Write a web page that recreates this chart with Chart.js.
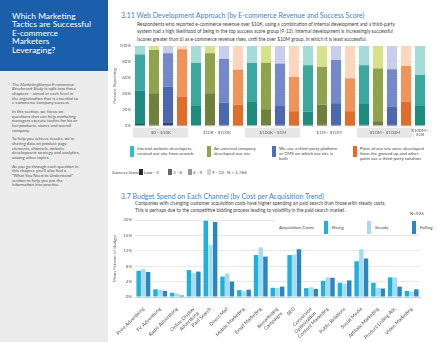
<!DOCTYPE html>
<html>
<head>
<meta charset="utf-8">
<script src="https://cdn.jsdelivr.net/npm/chart.js@4.4.1/dist/chart.umd.min.js"></script>
<style>
  html, body { margin: 0; padding: 0; }
  body {
    width: 438px; height: 342px; overflow: hidden; position: relative;
    background: #fff; font-family: Lato, "Open Sans", sans-serif; color: #444;
  }
  .abs { position: absolute; white-space: nowrap; }

  /* ── Sidebar ── */
  #sidebar { position: absolute; left: 0; top: 0; width: 108px; height: 342px; background: #ececec; }
  #sidebar .head { position: absolute; left: 0; top: 0; width: 108px; height: 71px; background: #1b5fab; }
  #sidebar h1 {
    position: absolute; left: 12px; top: 11.5px; margin: 0;
    font-size: 8.4px; line-height: 8.5px; font-weight: 400; color: #fff;
  }
  #sidebar .copy { position: absolute; left: 12px; top: 82.6px; font-size: 4.3px; line-height: 4.7px; color: #555; white-space: nowrap; }
  #sidebar .copy p { margin: 0 0 3.8px 0; }

  /* ── Section headings ── */
  h2 { position: absolute; margin: 0; font-size: 7px; line-height: 8px; font-weight: 400; color: #3f7fc6; white-space: nowrap; }
  .desc { position: absolute; font-size: 4.8px; color: #444; white-space: nowrap; }

  /* ── Legends ── */
  .swatch { position: absolute; }
  .lgd { position: absolute; font-size: 4.5px; line-height: 5px; color: #444; white-space: nowrap; }

  .chart-box { position: absolute; }
</style>
</head>
<body>

<div id="sidebar">
  <div class="head">
    <h1>Which Marketing<br>Tactics are Successful<br>E-commerce<br>Marketers<br>Leveraging?</h1>
  </div>
  <div class="copy">
    <p>The <i>MarketingSherpa E-commerce<br>Benchmark Study</i> is split into three<br>chapters – aimed at each level in<br>the organization that is essential to<br>e-commerce company success.</p>
    <p>In this section, we focus on<br>questions that can help marketing<br>managers execute tactics for his or<br>her products, stores and overall<br>company.</p>
    <p>To help you achieve results, we're<br>sharing data on product page<br>elements, channels, website<br>development strategy and analytics,<br>among other topics.</p>
    <p>As you go through each question in<br>this chapter, you'll also find a<br>"What You Need to Understand"<br>section to help you put the<br>information into practice.</p>
  </div>
</div>

<h2 style="left:121px; top:11px;">3.11 Web Development Approach (by E-commerce Revenue and Success Score)</h2>
<div class="desc" style="left:137px; top:20.5px; line-height:7.5px;">
  Respondents who reported e-commerce revenue over $10K, using a combination of internal development and a third-party<br>
  system had a high likelihood of being in the top success score group (9-12). Internal development is increasingly successful<br>
  (scores greater than 6) as e-commerce revenue rises, until the over $10M group, in which it is least successful.
</div>

<div class="chart-box" style="left:110px; top:40px; width:328px; height:100px;">
  <canvas id="webDev"></canvas>
</div>

<div id="approachLegend"></div>
<div id="scoreLegend"></div>

<h2 style="left:121px; top:192px;">3.7 Budget Spend on Each Channel (by Cost per Acquisition Trend)</h2>
<div class="desc" style="left:135px; top:200px; line-height:6.7px;">
  Companies with changing customer acquisition costs have higher spending on paid search than those with steady costs.<br>
  This is perhaps due to the competitive bidding process leading to volatility in the paid search market.
</div>

<div class="chart-box" style="left:110px; top:212px; width:328px; height:130px;">
  <canvas id="budget"></canvas>
</div>

<div id="costLegend"></div>

<script>
/* ── 3.11 data: one value per bar, group by group, four approaches each ── */
const revenueGroups = ['$0 - $10K', '$10K - $100K', '$100K - $1M', '$1M - $10M', '$10M - $100M', '$100M -\n$1B'];
const approachLabels = [
  'Internal website developers,\ncreated our site from scratch',
  'An external company\ndeveloped our site',
  'We use a third-party platform\nor CMS on which our site is\nbuilt',
  'Parts of our site were developed\nfrom the ground up and other\nparts use a third-party solution',
];
const scoreBands = ['Low - 3', '3 - 6', '6 - 9', '9 - 12'];
const scoreLow   = [2.5, 2, 4, 2,   1, 1, 2, 0.5,   1, 1, 2, 0.5,   2, 2, 2, 0.5,     1.5, 1, 1.5, 0.5,   1];
const score3to6  = [42, 39, 45, 35,  24, 40, 27, 26,  29, 20, 23, 18,  16, 24.5, 26.5, 18, 27, 5, 23, 30,  24];
const score6to9  = [45, 54, 42, 59,  54, 50, 55, 44,  49, 58, 53, 43,  58, 47.5, 54, 41,  47.5, 66, 46.5, 44.5, 39];
const score9to12 = [10.5, 5, 9, 4,   21, 9, 16, 29.5, 21, 21, 22, 38.5, 24, 26, 17.5, 40.5, 24, 28, 29, 25,  36];
const percentTicks = [0, 20, 40, 60, 80, 100];
const respondents311 = 'N = 1,766';

/* ── 3.7 data ── */
const channels = [
  'Print Advertising', 'TV Advertising', 'Radio Advertising', ['Online Display', 'Advertising'],
  'Paid Search', 'Direct Mail', 'Mobile Marketing', 'Email Marketing', ['Remarketing', 'Campaigns'],
  'SEO', ['Conversion', 'Optimization'], 'Content Marketing', 'Public Relations', 'Social Media',
  'Affiliate Marketing', 'Product Listing Ads', 'Video Marketing',
];
const costTrends = ['Rising', 'Steady', 'Falling'];
const rising  = [6.8, 2.0, 1.1, 7.0, 19.8, 5.3, 1.8, 10.9, 2.4, 10.9, 2.3, 4.2, 3.7, 9.3, 3.7, 5.1, 1.6];
const steady  = [7.3, 1.9, 0.9, 6.2, 13.6, 6.1, 1.5, 12.9, 2.4, 11.0, 2.5, 5.1, 3.5, 12.4, 2.4, 5.1, 1.4];
const falling = [6.5, 1.6, 0.4, 6.6, 19.5, 4.0, 1.9, 10.5, 2.7, 12.4, 2.1, 5.0, 4.3, 10.0, 2.2, 2.7, 2.0];
const respondents37 = 'N=925';

/* ── Palette ── */
const APPROACH_SHADES = [            // darkest (Low - 3) → lightest (9 - 12)
  ['#10615a', '#1d8b7d', '#3ba89f', '#a5dcda'],   // teal
  ['#4a5923', '#6e803a', '#8fa34c', '#d6e18a'],   // olive
  ['#273f86', '#4b67ae', '#7389c9', '#c9cfea'],   // blue
  ['#a4420f', '#df6e2c', '#ef9459', '#fcd6bc'],   // orange
];
const APPROACH_ICONS = ['#30bec6', '#8ca443', '#4a6fc0', '#f26624'];
const SCORE_SWATCHES = ['#2f2a2a', '#6d5f5c', '#a2928f', '#d9cfce'];
const TREND_COLORS = ['#1fb0dc', '#a7dcee', '#2b87c3'];
const FONT = 'Lato, "Open Sans", sans-serif';

Chart.defaults.font.family = FONT;
Chart.defaults.animation = false;

/* ── Helpers ── */
function el(html, parent) {
  const d = document.createElement('div');
  d.innerHTML = html;
  const node = d.firstElementChild;
  (parent || document.body).appendChild(node);
  return node;
}

/* ── Revenue group boxes under the 3.11 bars ── */
const groupBoxes = {
  id: 'groupBoxes',
  afterDraw(chart) {
    const { ctx, chartArea, scales: { x } } = chart;
    const step = x.getPixelForValue(1) - x.getPixelForValue(0);
    const top = chartArea.bottom + 1.7;
    const h = 10;
    ctx.save();
    ctx.font = '4.5px ' + FONT;
    ctx.fillStyle = '#666';
    ctx.textAlign = 'center';
    ctx.textBaseline = 'middle';
    revenueGroups.forEach((g, i) => {
      const start = x.getPixelForValue(i * 4) - step / 2;
      const end = Math.min(start + step * 4, chart.width);
      if (i % 2 === 0) {
        ctx.fillStyle = '#e6e6e6';
        ctx.fillRect(start, top, end - start - 1, h);
      } else if (i === revenueGroups.length - 1) {
        ctx.fillStyle = '#d0d0d0';
        ctx.fillRect(start, top, 0.6, h);
      }
      ctx.fillStyle = '#666';
      const cx = (start + Math.min(end, chartArea.right)) / 2;
      const lines = g.split('\n');
      lines.forEach((t, k) => {
        ctx.fillText(t, cx, top + h / 2 + (k - (lines.length - 1) / 2) * 4.6);
      });
    });
    ctx.restore();
  },
};

/* ── 3.11 stacked bars ── */
const barLabels = revenueGroups
  .flatMap(g => approachLabels.map(a => g.replace('\n', ' ') + ' | ' + a.replace(/\n/g, ' ')))
  .slice(0, scoreLow.length);

new Chart(document.getElementById('webDev'), {
  type: 'bar',
  data: {
    labels: barLabels,
    datasets: [scoreLow, score3to6, score6to9, score9to12].map((data, i) => ({
      label: scoreBands[i],
      data,
      backgroundColor: data.map((_, k) => APPROACH_SHADES[k % 4][i]),
      borderWidth: 0,
      barPercentage: 0.72,
      categoryPercentage: 1,
    })),
  },
  options: {
    responsive: true,
    maintainAspectRatio: false,
    layout: { padding: { top: 6, right: 11, bottom: 14, left: 0 } },
    plugins: { legend: { display: false }, tooltip: { enabled: false } },
    scales: {
      x: { stacked: true, display: false },
      y: {
        stacked: true, min: 0, max: 100,
        afterBuildTicks: s => { s.ticks = percentTicks.map(v => ({ value: v })); },
        afterFit: s => { s.width = 23; },
        ticks: { font: { size: 4.5 }, color: '#666', padding: 2, callback: v => v + '%' },
        grid: { color: '#f0f0f0', drawTicks: false },
        border: { display: false },
        title: { display: true, text: 'Percent Reporting', font: { size: 4.5 }, color: '#666', padding: 2 },
      },
    },
  },
  plugins: [groupBoxes],
});

/* ── 3.11 approach legend + success score key ── */
const approachX = [130, 207, 272, 353];
approachLabels.forEach((label, i) => {
  el(`<div class="swatch" style="left:${approachX[i]}px; top:146px; width:3.5px; height:11px; background:${APPROACH_ICONS[i]}"></div>`);
  el(`<div class="lgd" style="left:${approachX[i] + 7}px; top:145.5px;">${label.replace(/\n/g, '<br>')}</div>`);
});

el(`<div class="lgd" style="left:112px; top:169.5px;">Success Score:</div>`);
const scoreX = [139, 168, 188, 207];
scoreBands.forEach((band, i) => {
  el(`<div class="swatch" style="left:${scoreX[i]}px; top:169.3px; width:3.5px; height:5.5px; background:${SCORE_SWATCHES[i]}"></div>`);
  el(`<div class="lgd" style="left:${scoreX[i] + 5}px; top:169.5px;">${band}</div>`);
});
el(`<div class="lgd" style="left:227px; top:169.5px;">${respondents311}</div>`);

/* ── 3.7 grouped bars ── */
new Chart(document.getElementById('budget'), {
  type: 'bar',
  data: {
    labels: channels,
    datasets: [rising, steady, falling].map((data, i) => ({
      label: costTrends[i],
      data,
      backgroundColor: TREND_COLORS[i],
      borderWidth: 0,
      barPercentage: 0.95,
      categoryPercentage: 0.84,
    })),
  },
  options: {
    responsive: true,
    maintainAspectRatio: false,
    layout: { padding: { top: 8, right: 18, bottom: 0, left: 0 } },
    plugins: { legend: { display: false }, tooltip: { enabled: false } },
    scales: {
      x: {
        afterFit: s => { s.height = 45; },
        ticks: { font: { size: 5 }, color: '#555', minRotation: 45, maxRotation: 45, autoSkip: false, padding: 1 },
        grid: { display: false },
        border: { color: '#bcd6e6' },
      },
      y: {
        min: 0, max: 20,
        afterFit: s => { s.width = 25; },
        ticks: { stepSize: 2, font: { size: 4.5 }, color: '#666', padding: 3, callback: v => v + '%' },
        grid: { color: '#e8e8e8', drawTicks: false },
        border: { display: false },
        title: { display: true, text: 'Mean Percent of Budget', font: { size: 4.5 }, color: '#666', padding: 2 },
      },
    },
  },
});

/* ── 3.7 legend ── */
el(`<div class="lgd" style="left:410px; top:210.5px;">${respondents37}</div>`);
el(`<div class="swatch" style="left:275px; top:218px; width:163px; height:17px; background:#fff"></div>`);
el(`<div class="lgd" style="left:279px; top:224.5px;">Acquisition Costs:</div>`);
const trendX = [324, 367, 412];
costTrends.forEach((t, i) => {
  el(`<div class="swatch" style="left:${trendX[i]}px; top:220.5px; width:4px; height:13px; background:${TREND_COLORS[i]}"></div>`);
  el(`<div class="lgd" style="left:${trendX[i] + 8}px; top:224.5px;">${t}</div>`);
});
</script>
</body>
</html>
